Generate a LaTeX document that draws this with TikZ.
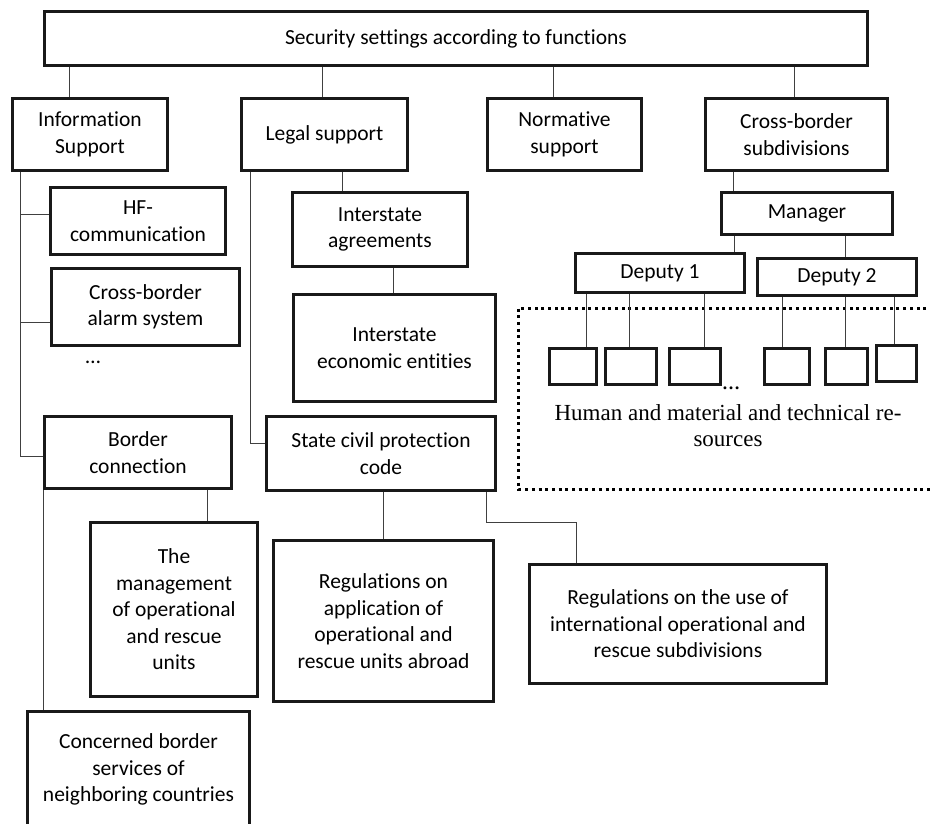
\documentclass[tikz,border=0pt]{standalone}
\usepackage{fontspec}
\setmainfont{Carlito}[Ligatures={NoCommon}]
\newfontfamily\serifface{Liberation Serif}
\usetikzlibrary{calc}

\begin{document}
\begin{tikzpicture}[x=1pt,y=-1pt,
  box/.style={draw=black!90, line width=3pt, fill=white, align=center,
    inner sep=2pt, font=\fontsize{21.5}{26.5}\selectfont},
  link/.style={draw=black!75, line width=1pt},
  dotframe/.style={draw=black, line width=3pt, dash pattern=on 3pt off 3.7pt},
]
\useasboundingbox (0,0) rectangle (930,823);

% frame around the resources group
\draw[dotframe] (518.5,308.5) rectangle (940,489.5);

% top level
\node[box, minimum width=823pt, minimum height=54pt] (top) at (456,38.5) {Security settings according to functions};

% functional branches
\node[box, minimum width=155pt, minimum height=72pt] (info) at (90,134.5) {Information\\Support};
\node[box, minimum width=166pt, minimum height=72pt] (legal) at (324.5,134.5) {Legal support};
\node[box, minimum width=154pt, minimum height=72pt] (norm) at (564.5,134.5) {Normative\\support};
\node[box, minimum width=182pt, minimum height=72pt] (cross) at (796.5,134.5) {Cross-border\\subdivisions};

% information support
\node[box, minimum width=175pt, minimum height=67pt] (hf) at (138,221) {HF-\\communication};
\node[box, minimum width=188pt, minimum height=77pt] (alarm) at (145.5,307) {Cross-border\\alarm system};
\node[font=\fontsize{21.5}{26.5}\selectfont, inner sep=0pt] (idots) at (93,362) {\dots};
\node[box, minimum width=187pt, minimum height=72pt] (border) at (138,452.5) {Border\\connection};
\node[box, minimum width=167pt, minimum height=174pt] (mgmt) at (174,609.5) {The\\management\\of operational\\and rescue\\units};
\node[box, minimum width=222pt, minimum height=116pt] (concern) at (138.5,769.5) {Concerned border\\services of\\neighboring countries};

% legal support
\node[box, minimum width=175pt, minimum height=74pt] (agree) at (380,229.5) {Interstate\\agreements};
\node[box, minimum width=202pt, minimum height=107pt] (econ) at (394.5,348) {Interstate\\economic entities};
\node[box, minimum width=229pt, minimum height=74pt] (state) at (381,453.5) {State civil protection\\code};
\node[box, minimum width=220pt, minimum height=161pt] (apply) at (383.5,621) {Regulations on\\application of\\operational and\\rescue units abroad};
\node[box, minimum width=297pt, minimum height=119pt] (use) at (678,624) {Regulations on the use of\\international operational and\\rescue subdivisions};

% cross-border subdivisions
\node[box, minimum width=171pt, minimum height=42pt] (mgr) at (807,213.5) {Manager};
\node[box, minimum width=169pt, minimum height=39pt] (dep1) at (660,273) {Deputy 1};
\node[box, minimum width=159pt, minimum height=37pt] (dep2) at (837,277) {Deputy 2};

\node[box, minimum width=47pt, minimum height=36pt] (r1) at (573,366.5) {};
\node[box, minimum width=51pt, minimum height=36pt] (r2) at (631,366.5) {};
\node[box, minimum width=51pt, minimum height=36pt] (r3) at (695,366.5) {};
\node[box, minimum width=45pt, minimum height=36pt] (r4) at (787,366.5) {};
\node[box, minimum width=42pt, minimum height=36pt] (r5) at (846.5,366.5) {};
\node[box, minimum width=40pt, minimum height=36pt] (r6) at (896.5,363.5) {};
\node[font=\serifface\bfseries\fontsize{18}{20}\selectfont, inner sep=0pt] (rdots) at (731,388) {\dots};
\node[font=\serifface\fontsize{23}{26}\selectfont, align=center, inner sep=0pt] (res) at (728,426) {Human and material and technical re-\\sources};

% connectors from the top box
\draw[link] ([xshift=-21pt]info.north) -- ([xshift=-21pt]info.north |- top.south);
\draw[link] ([xshift=-2.5pt]legal.north) -- ([xshift=-2.5pt]legal.north |- top.south);
\draw[link] ([xshift=-11.5pt]norm.north) -- ([xshift=-11.5pt]norm.north |- top.south);
\draw[link] ([xshift=-2.5pt]cross.north) -- ([xshift=-2.5pt]cross.north |- top.south);

% information support spine
\coordinate (ispine) at ([xshift=9pt]info.south west);
\draw[link] (ispine) |- ([yshift=-3.5pt]border.west);
\draw[link] ([yshift=7pt]hf.west) -- ([yshift=7pt]hf.west -| ispine);
\draw[link] ([yshift=-15pt]alarm.west) -- ([yshift=-15pt]alarm.west -| ispine);
\draw[link] ([xshift=69pt]border.south) -- ([xshift=69pt]border.south |- mgmt.north);
\draw[link] (border.south west) -- (border.south west |- concern.north);

% legal support links
\draw[link] ([xshift=10pt]legal.south west) |- ([yshift=10.5pt]state.west);
\draw[link] ([xshift=17.5pt]legal.south) -- ([xshift=17.5pt]legal.south |- agree.north);
\draw[link] ([xshift=-1.5pt]econ.north) -- ([xshift=-1.5pt]econ.north |- agree.south);
\draw[link] (apply.north) -- (apply.north |- state.south);
\draw[link] ([xshift=105pt]state.south) -- ++(0,30) -| ([xshift=-102pt]use.north);

% cross-border subdivision links
\draw[link] ([xshift=-63.5pt]cross.south) -- ([xshift=-63.5pt]cross.south |- mgr.north);
\draw[link] ([xshift=74pt]dep1.north) -- ([xshift=74pt]dep1.north |- mgr.south);
\draw[link] ([xshift=8pt]dep2.north) -- ([xshift=8pt]dep2.north |- mgr.south);
\draw[link] ([xshift=13pt]r1.north) -- ([xshift=13pt]r1.north |- dep1.south);
\draw[link] ([xshift=-2pt]r2.north) -- ([xshift=-2pt]r2.north |- dep1.south);
\draw[link] ([xshift=9pt]r3.north) -- ([xshift=9pt]r3.north |- dep1.south);
\draw[link] ([xshift=-5pt]r4.north) -- ([xshift=-5pt]r4.north |- dep2.south);
\draw[link] ([xshift=-1.5pt]r5.north) -- ([xshift=-1.5pt]r5.north |- dep2.south);
\draw[link] ([xshift=-2.5pt]r6.north) -- ([xshift=-2.5pt]r6.north |- dep2.south);
\end{tikzpicture}
\end{document}
